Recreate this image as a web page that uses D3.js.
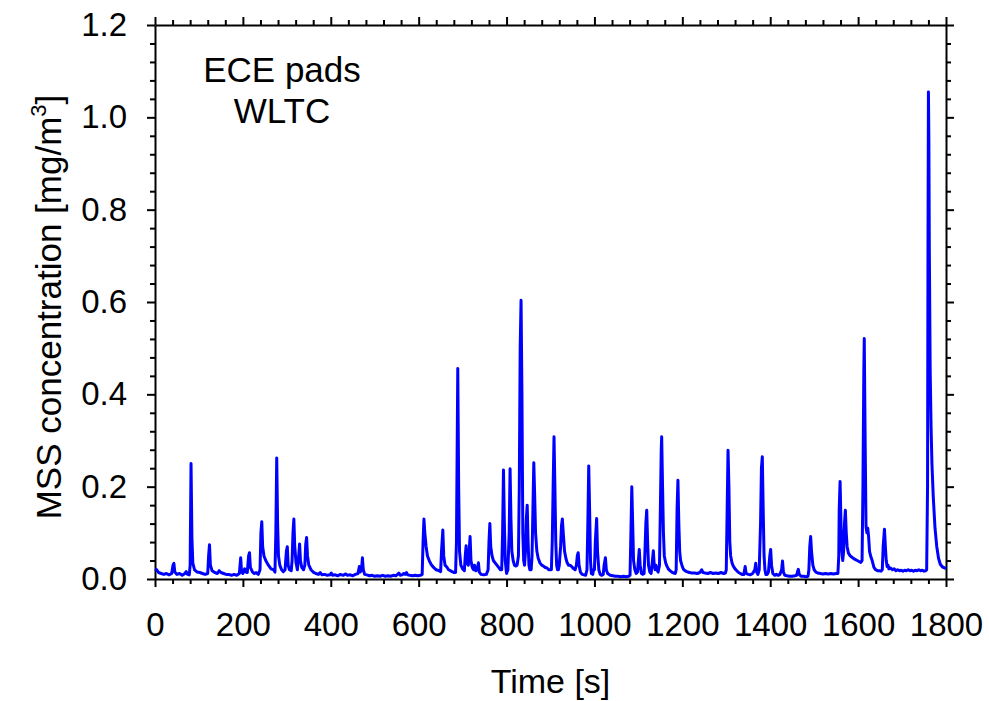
<!DOCTYPE html>
<html>
<head>
<meta charset="utf-8">
<script src="https://cdn.jsdelivr.net/npm/d3@7/dist/d3.min.js"></script>
<style>
  body { margin: 0; background: #fff; }
  text { font-family: Arial, "Liberation Sans", sans-serif; fill: #000; }
</style>
</head>
<body>
<div id="chart"></div>
<script>
// tick values
const xTicks = [0, 200, 400, 600, 800, 1000, 1200, 1400, 1600, 1800];
const yTicks = [0.0, 0.2, 0.4, 0.6, 0.8, 1.0, 1.2];
const xMinor = d3.range(0, 1801, 40);
const yMinor = d3.range(0, 1.2001, 0.04);

const titleLines = ['ECE pads', 'WLTC'];

// MSS concentration trace, [time s, mg/m3]
const trace = [
  [0,0.022],[4,0.02],[8,0.014],[14,0.012],[20,0.01],[26,0.012],[32,0.009],[38,0.012],[41,0.03],[43,0.034],
  [45,0.015],[50,0.01],[56,0.012],[62,0.008],[68,0.012],[71,0.016],[74,0.01],[78,0.009],[80,0.03],[82,0.25],
  [84,0.09],[86,0.035],[90,0.02],[96,0.015],[102,0.014],[108,0.012],[114,0.01],[120,0.012],[122,0.05],[124,0.074],
  [126,0.03],[130,0.018],[136,0.014],[142,0.012],[146,0.018],[150,0.014],[156,0.012],[162,0.01],[168,0.01],[174,0.008],
  [180,0.01],[186,0.008],[192,0.012],[195,0.046],[197,0.015],[200,0.012],[204,0.022],[207,0.015],[210,0.014],[213,0.05],
  [215,0.057],[217,0.025],[222,0.015],[226,0.012],[230,0.014],[235,0.01],[239,0.02],[241,0.1],[243,0.124],[245,0.07],
  [248,0.05],[252,0.04],[258,0.03],[264,0.022],[270,0.02],[273,0.015],[275,0.1],[277,0.262],[279,0.12],[281,0.05],
  [284,0.03],[288,0.02],[292,0.016],[296,0.02],[299,0.06],[301,0.07],[303,0.03],[306,0.02],[310,0.018],[312,0.04],
  [314,0.1],[316,0.13],[318,0.07],[321,0.035],[324,0.02],[327,0.05],[329,0.076],[331,0.04],[334,0.025],[338,0.02],
  [341,0.03],[343,0.075],[345,0.09],[347,0.05],[350,0.03],[355,0.02],[360,0.015],[366,0.012],[372,0.01],[376,0.014],
  [380,0.009],[386,0.01],[392,0.008],[398,0.009],[401,0.013],[404,0.008],[410,0.009],[416,0.007],[422,0.01],[428,0.008],
  [434,0.011],[438,0.008],[444,0.009],[450,0.007],[456,0.01],[462,0.012],[465,0.027],[467,0.015],[470,0.02],[472,0.046],
  [474,0.02],[477,0.01],[482,0.009],[488,0.007],[494,0.008],[500,0.006],[506,0.007],[512,0.006],[518,0.008],[524,0.006],
  [530,0.007],[536,0.006],[542,0.008],[548,0.007],[552,0.01],[555,0.013],[558,0.008],[562,0.009],[566,0.012],[569,0.01],
  [572,0.014],[575,0.009],[580,0.008],[586,0.007],[592,0.008],[598,0.007],[604,0.008],[608,0.01],[610,0.08],[612,0.13],
  [614,0.1],[617,0.07],[620,0.05],[624,0.04],[628,0.032],[634,0.025],[640,0.02],[646,0.018],[650,0.016],[652,0.06],
  [655,0.106],[657,0.05],[660,0.03],[664,0.026],[668,0.02],[672,0.018],[676,0.016],[680,0.014],[684,0.014],[686,0.08],
  [689,0.456],[691,0.2],[693,0.06],[696,0.03],[700,0.022],[704,0.018],[706,0.05],[708,0.072],[710,0.035],[713,0.03],
  [715,0.06],[717,0.092],[719,0.04],[722,0.025],[725,0.02],[727,0.03],[730,0.018],[733,0.02],[736,0.035],[738,0.015],
  [742,0.01],[748,0.009],[754,0.01],[758,0.02],[760,0.08],[762,0.12],[764,0.07],[767,0.05],[770,0.04],[774,0.035],
  [778,0.03],[782,0.025],[786,0.02],[789,0.02],[791,0.1],[793,0.236],[795,0.12],[797,0.04],[800,0.012],[803,0.02],
  [806,0.1],[808,0.239],[810,0.13],[812,0.06],[815,0.04],[818,0.03],[821,0.028],[824,0.03],[827,0.05],[829,0.2],
  [831,0.5],[833,0.604],[835,0.4],[837,0.1],[839,0.04],[841,0.03],[843,0.06],[845,0.13],[847,0.16],[849,0.08],
  [851,0.03],[853,0.02],[856,0.02],[858,0.05],[860,0.15],[862,0.252],[864,0.18],[866,0.1],[869,0.06],[872,0.045],
  [876,0.035],[880,0.03],[884,0.028],[888,0.025],[892,0.024],[896,0.02],[900,0.02],[902,0.02],[904,0.08],[906,0.2],
  [908,0.308],[910,0.2],[912,0.08],[914,0.03],[916,0.02],[918,0.02],[920,0.03],[923,0.07],[925,0.115],[927,0.13],
  [929,0.1],[932,0.06],[935,0.045],[938,0.035],[941,0.03],[944,0.03],[947,0.028],[950,0.025],[953,0.022],[956,0.02],
  [959,0.03],[961,0.05],[963,0.057],[965,0.03],[968,0.015],[972,0.01],[976,0.009],[980,0.008],[983,0.02],[985,0.12],
  [987,0.245],[989,0.15],[991,0.04],[993,0.012],[996,0.01],[998,0.02],[1000,0.02],[1002,0.08],[1005,0.131],[1007,0.06],
  [1010,0.02],[1013,0.01],[1016,0.008],[1020,0.01],[1022,0.03],[1025,0.046],[1027,0.02],[1030,0.012],[1036,0.008],[1042,0.007],
  [1048,0.006],[1054,0.006],[1060,0.005],[1066,0.006],[1072,0.005],[1078,0.006],[1081,0.008],[1083,0.1],[1085,0.2],[1087,0.12],
  [1089,0.04],[1092,0.02],[1095,0.012],[1098,0.015],[1100,0.04],[1102,0.064],[1104,0.03],[1107,0.012],[1110,0.01],[1113,0.012],
  [1115,0.06],[1117,0.12],[1119,0.149],[1121,0.08],[1123,0.03],[1126,0.015],[1129,0.012],[1132,0.04],[1134,0.061],[1136,0.03],
  [1138,0.02],[1140,0.03],[1142,0.02],[1145,0.015],[1148,0.03],[1150,0.15],[1152,0.28],[1153,0.308],[1155,0.2],[1157,0.1],
  [1159,0.05],[1162,0.035],[1165,0.028],[1168,0.022],[1172,0.018],[1176,0.015],[1180,0.013],[1184,0.012],[1186,0.02],[1188,0.15],
  [1190,0.214],[1192,0.12],[1194,0.06],[1196,0.04],[1199,0.03],[1202,0.022],[1206,0.018],[1210,0.016],[1216,0.014],[1222,0.013],
  [1228,0.013],[1234,0.012],[1240,0.014],[1244,0.02],[1247,0.014],[1252,0.013],[1258,0.012],[1264,0.014],[1270,0.012],[1276,0.013],
  [1282,0.012],[1288,0.014],[1294,0.012],[1298,0.013],[1300,0.02],[1302,0.15],[1304,0.279],[1306,0.2],[1308,0.08],[1310,0.05],
  [1313,0.035],[1316,0.028],[1320,0.022],[1324,0.018],[1328,0.014],[1332,0.012],[1336,0.01],[1340,0.01],[1343,0.027],[1345,0.012],
  [1350,0.01],[1355,0.009],[1360,0.012],[1365,0.02],[1367,0.034],[1369,0.015],[1372,0.01],[1375,0.02],[1378,0.12],[1380,0.24],
  [1382,0.265],[1384,0.15],[1386,0.05],[1388,0.02],[1390,0.01],[1393,0.01],[1396,0.015],[1399,0.05],[1401,0.064],[1403,0.03],
  [1406,0.012],[1410,0.008],[1414,0.01],[1418,0.008],[1422,0.01],[1426,0.02],[1428,0.039],[1430,0.015],[1433,0.008],[1438,0.007],
  [1444,0.006],[1450,0.006],[1456,0.007],[1460,0.008],[1462,0.015],[1464,0.021],[1466,0.01],[1470,0.006],[1476,0.006],[1482,0.005],
  [1486,0.006],[1488,0.02],[1490,0.07],[1492,0.092],[1494,0.06],[1497,0.03],[1500,0.02],[1504,0.015],[1508,0.013],[1514,0.012],
  [1520,0.011],[1526,0.012],[1532,0.011],[1538,0.012],[1544,0.011],[1550,0.012],[1554,0.012],[1556,0.05],[1557,0.15],[1559,0.211],
  [1561,0.12],[1563,0.06],[1565,0.04],[1567,0.06],[1569,0.12],[1571,0.149],[1573,0.1],[1575,0.07],[1578,0.056],[1582,0.05],
  [1586,0.047],[1590,0.044],[1594,0.042],[1598,0.04],[1602,0.038],[1606,0.036],[1609,0.04],[1611,0.2],[1613,0.45],[1614,0.521],
  [1616,0.3],[1618,0.113],[1620,0.1],[1622,0.11],[1624,0.09],[1626,0.06],[1629,0.048],[1632,0.04],[1636,0.025],[1640,0.02],
  [1644,0.018],[1648,0.018],[1652,0.017],[1655,0.02],[1657,0.07],[1660,0.108],[1662,0.07],[1664,0.04],[1666,0.027],[1668,0.03],
  [1670,0.022],[1674,0.024],[1678,0.02],[1682,0.022],[1686,0.018],[1690,0.02],[1694,0.018],[1698,0.019],[1702,0.017],[1706,0.019],
  [1710,0.018],[1714,0.02],[1718,0.018],[1722,0.019],[1726,0.017],[1730,0.019],[1734,0.018],[1738,0.02],[1742,0.018],[1746,0.019],
  [1750,0.017],[1754,0.018],[1756,0.02],[1758,0.2],[1759,0.7],[1760,1.055],[1761,0.95],[1762,0.72],[1764,0.45],[1766,0.33],
  [1768,0.25],[1771,0.178],[1775,0.11],[1779,0.07],[1783,0.045],[1787,0.032],[1792,0.026],[1797,0.024],[1800,0.022]
];

const W = 989, H = 701;
const margin = {top: 25, right: 43, bottom: 122, left: 155};
const width = W - margin.left - margin.right;   // 791
const height = H - margin.top - margin.bottom;  // 554

const svg = d3.select('#chart').append('svg')
    .attr('width', W)
    .attr('height', H);

svg.append('rect').attr('width', W).attr('height', H).attr('fill', '#fff');

const g = svg.append('g')
    .attr('transform', `translate(${margin.left},${margin.top})`);

const x = d3.scaleLinear().domain([0, 1800]).range([0, width]);
const y = d3.scaleLinear().domain([0, 1.2]).range([height, 0]);

// minor ticks on all four sides (outward)
const minorY = yMinor.filter(v => !yTicks.some(t => Math.abs(t - v) < 1e-6));
const minorT = xMinor.filter(v => xTicks.indexOf(v) < 0);

g.append('g').attr('class', 'minor').attr('transform', `translate(0,${height})`)
    .call(d3.axisBottom(x).tickValues(minorT).tickSize(5).tickFormat(''));
g.append('g').attr('class', 'minor')
    .call(d3.axisTop(x).tickValues(minorT).tickSize(5).tickFormat(''));
g.append('g').attr('class', 'minor')
    .call(d3.axisLeft(y).tickValues(minorY).tickSize(5).tickFormat(''));
g.append('g').attr('class', 'minor').attr('transform', `translate(${width},0)`)
    .call(d3.axisRight(y).tickValues(minorY).tickSize(5).tickFormat(''));

// major ticks
g.append('g').attr('class', 'major').attr('transform', `translate(0,${height})`)
    .call(d3.axisBottom(x).tickValues(xTicks).tickSize(8).tickSizeOuter(0).tickPadding(26).tickFormat(d3.format('d')));
g.append('g').attr('class', 'major')
    .call(d3.axisTop(x).tickValues(xTicks).tickSize(8).tickSizeOuter(0).tickFormat(''));
g.append('g').attr('class', 'major')
    .call(d3.axisLeft(y).tickValues(yTicks).tickSize(8).tickSizeOuter(0).tickPadding(20).tickFormat(d3.format('.1f')));
g.append('g').attr('class', 'major').attr('transform', `translate(${width},0)`)
    .call(d3.axisRight(y).tickValues(yTicks).tickSize(8).tickSizeOuter(0).tickFormat(''));

g.selectAll('.minor .domain').remove();
g.selectAll('.domain').attr('stroke', '#000').attr('stroke-width', 2);
g.selectAll('.tick line').attr('stroke', '#000').attr('stroke-width', 2);
g.selectAll('.major text')
    .style('font-size', '33px')
    .style('font-family', 'Arial, "Liberation Sans", sans-serif')
    .attr('fill', '#000');

// data line
const line = d3.line()
    .x(d => x(d[0]))
    .y(d => y(d[1]));

g.append('path')
    .datum(trace)
    .attr('fill', 'none')
    .attr('stroke', '#0000ff')
    .attr('stroke-width', 3)
    .attr('stroke-linejoin', 'round')
    .attr('d', line);

// annotation
g.append('text')
    .attr('text-anchor', 'middle')
    .style('font-size', '35px')
    .selectAll('tspan')
    .data(titleLines)
    .enter()
    .append('tspan')
    .attr('x', 127)
    .attr('y', (d, i) => 57 + i * 41)
    .text(d => d);

// axis titles
svg.append('text')
    .attr('x', margin.left + width / 2)
    .attr('y', 693)
    .attr('text-anchor', 'middle')
    .style('font-size', '34px')
    .text('Time [s]');

const yLab = svg.append('text')
    .attr('transform', `translate(61,${margin.top + height / 2 + 5}) rotate(-90)`)
    .attr('text-anchor', 'middle')
    .style('font-size', '35px');
yLab.append('tspan').text('MSS concentration [mg/m');
yLab.append('tspan').attr('dy', -15).style('font-size', '22px').text('3');
yLab.append('tspan').attr('dy', 15).text(']');
</script>
</body>
</html>
